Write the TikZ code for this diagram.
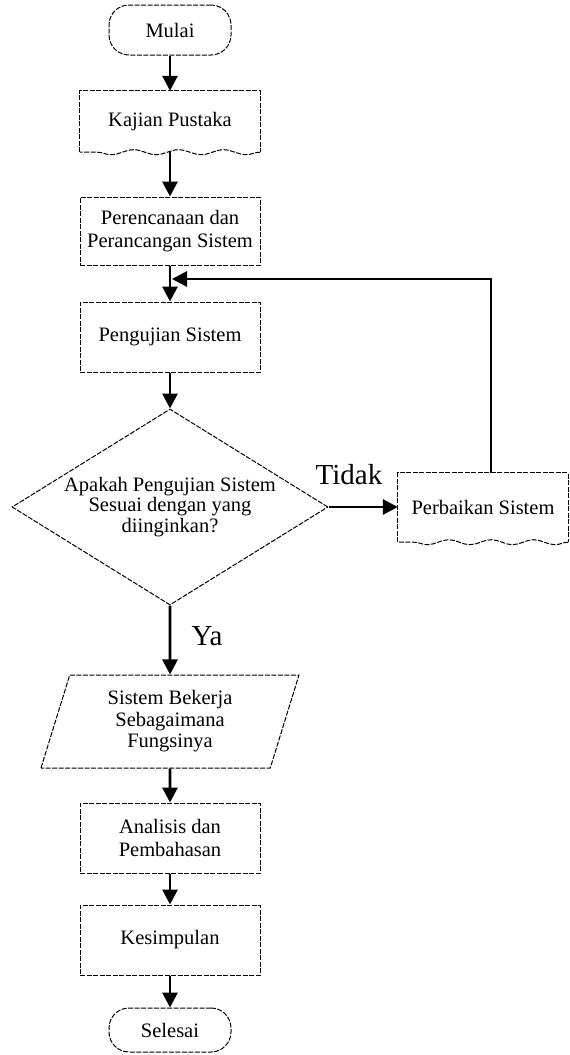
\documentclass[tikz,border=0pt]{standalone}
\usepackage{fontspec}
\setmainfont{Liberation Serif}
\usetikzlibrary{arrows.meta, shapes.geometric, decorations.pathmorphing}

\tikzset{
  garis/.style={line width=1pt, dash pattern=on 5pt off 1.5pt},
  teks/.style={font=\fontsize{20.5}{23}\selectfont, align=center, inner sep=0pt},
  kotak/.style={teks, garis, draw, minimum width=180pt},
  terminal/.style={teks, garis, draw, rounded corners=20pt, minimum width=122pt},
  panah/.style={line width=2.9pt, -{Triangle[length=15pt,width=15pt]}},
  tulisan/.style={font=\fontsize{29}{31}\selectfont, inner sep=0pt},
  gelombang/.style={garis, decorate, decoration={snake, amplitude=2.5pt, segment length=#1}},
}

% kotak dokumen: sisi bawah bergelombang
\newcommand{\gambardok}[2]{%
  \draw[garis] (#1.south west) -- (#1.north west) -- (#1.north east) -- (#1.south east);
  \draw[gelombang=#2] (#1.south east) -- (#1.south west);
}

\begin{document}
\begin{tikzpicture}[x=1pt, y=-1pt]
    % --- 1. Batas gambar ---
    \useasboundingbox (0,0) rectangle (570,1055);

    % --- 2. Simpul alur utama ---
    \node[terminal, minimum height=50pt] (mulai) at (170,30) {Mulai};
    \node[teks, minimum width=180pt, minimum height=61pt] (kajian) at (170,121.5) {Kajian Pustaka};
    \gambardok{kajian}{45pt}
    \node[kotak, minimum height=68pt] (rencana) at (170,231) {Perencanaan dan\\Perancangan Sistem};
    \node[kotak, minimum height=70pt] (uji) at (170,337) {Pengujian Sistem};
    \node[teks, garis, draw, diamond, aspect=1.61, minimum width=316pt, minimum height=196pt,
          font=\fontsize{20.5}{20.5}\selectfont] (cek) at (170,507)
          {Apakah Pengujian Sistem\\Sesuai dengan yang\\diinginkan?};
    \node[teks, garis, draw, trapezium, trapezium left angle=65, trapezium right angle=115,
          trapezium stretches body, minimum width=258pt, minimum height=93pt,
          font=\fontsize{20.5}{21.5}\selectfont] (hasil) at (170,721.5)
          {Sistem Bekerja\\Sebagaimana\\Fungsinya};
    \node[kotak, minimum height=70pt] (analisis) at (170,838) {Analisis dan\\Pembahasan};
    \node[kotak, minimum height=70pt] (simpulan) at (170,940) {Kesimpulan};
    \node[terminal, minimum height=44pt] (selesai) at (170,1030) {Selesai};

    % --- 3. Cabang perbaikan ---
    \node[teks, minimum width=170pt, minimum height=69pt] (perbaikan) at (483,507.5) {Perbaikan Sistem};
    \gambardok{perbaikan}{42.5pt}
    \coordinate (balik) at (172,279);

    % --- 4. Label cabang ---
    \node[tulisan] (tidak) at (349,475) {Tidak};
    \node[tulisan] (ya) at (207,636) {Ya};

    % --- 5. Panah ---
    \draw[panah] (mulai.south) -- (kajian.north);
    \draw[panah] (kajian.south) -- (rencana.north);
    \draw[panah] (rencana.south) -- (uji.north);
    \draw[panah] (uji.south) -- (cek.north);
    \draw[panah] (cek.east) -- (cek.east -| perbaikan.west);
    \draw[panah] ([xshift=8pt]perbaikan.north) |- (balik);
    \draw[panah] (cek.south) -- (hasil.north);
    \draw[panah] (hasil.south) -- (analisis.north);
    \draw[panah] (analisis.south) -- (simpulan.north);
    \draw[panah] (simpulan.south) -- (selesai.north);
\end{tikzpicture}
\end{document}
